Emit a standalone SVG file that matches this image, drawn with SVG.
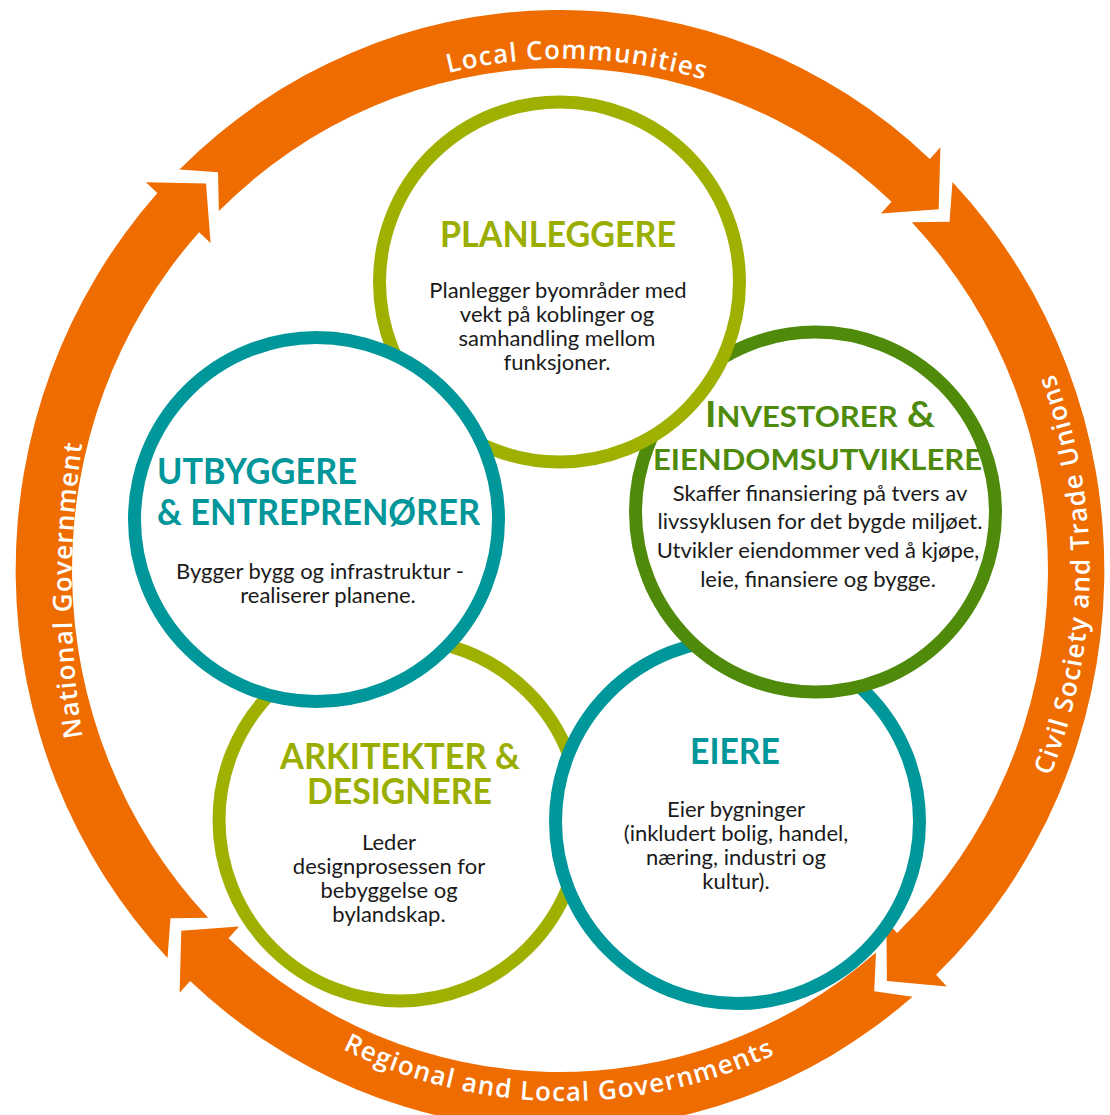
<svg xmlns="http://www.w3.org/2000/svg" width="1110" height="1115" viewBox="0 0 1110 1115">
<defs>
<style>
.ring{fill:#EE6C00;}
.lbl{font-family:"Open Sans","Noto Sans",sans-serif;font-size:26px;font-weight:600;fill:#ffffff;letter-spacing:1.2px;}
.node{fill:#ffffff;stroke-width:13;}
.yg{stroke:#9FB000;} .tl{stroke:#00979A;} .dg{stroke:#4F8A0B;}
.title{font-family:Lato,"Open Sans",sans-serif;font-weight:700;font-size:36px;}
.tyg{fill:#9AAE00;} .ttl{fill:#00969A;} .tdg{fill:#4E8A0C;}
.body{font-family:Lato,"Open Sans",sans-serif;font-size:22px;fill:#1a1a1a;text-anchor:middle;}
</style>
<path id="pTop" d="M 193.6 231.4 A 494.6 511 0 0 1 951.1 251.9"/>
<path id="pRight" d="M 898.3 989.0 A 525.6 543 0 0 0 905.4 157.1"/>
<path id="pBottom" d="M 166.9 907.2 A 514 531 0 0 0 954.3 915.6"/>
<path id="pLeft" d="M 186.2 1040 A 490 700 0 0 1 186.2 140"/>
</defs>
<rect width="1110" height="1115" fill="#ffffff"/>
<g id="connectors">
<g transform="translate(560 570) scale(0.972 1)">
<path class="ring" d="M -391.54 -400.38 A 560 560 0 0 1 380.49 -410.89 L 391.36 -422.63 L 389.61 -360.79 L 330.21 -356.59 L 341.08 -368.33 A 502 502 0 0 0 -350.98 -358.91 L -351.85 -397.70 Z"/>
<path class="ring" d="M 403.78 -388.02 A 560 560 0 0 1 386.90 404.87 L 397.95 416.44 L 336.33 410.92 L 335.77 351.37 L 346.83 362.94 A 502 502 0 0 0 361.96 -347.84 L 400.75 -348.37 Z"/>
<path class="ring" d="M 362.66 426.72 A 560 560 0 0 1 -380.49 410.89 L -391.36 422.63 L -389.61 360.79 L -330.21 356.59 L -341.08 368.33 A 502 502 0 0 0 325.10 382.52 L 323.25 421.27 Z"/>
<path class="ring" d="M -403.78 388.02 A 560 560 0 0 1 -414.20 -376.89 L -426.03 -387.66 L -364.18 -386.45 L -359.47 -327.09 L -371.30 -337.86 A 502 502 0 0 0 -361.96 347.84 L -400.75 348.37 Z"/>
</g>
<text class="lbl"><textPath href="#pTop" startOffset="50%" text-anchor="middle">Local Communities</textPath></text>
<text class="lbl"><textPath href="#pRight" startOffset="50%" text-anchor="middle">Civil Society and Trade Unions</textPath></text>
<text class="lbl"><textPath href="#pBottom" startOffset="50%" text-anchor="middle">Regional and Local Governments</textPath></text>
<text class="lbl"><textPath href="#pLeft" startOffset="50%" text-anchor="middle">National Government</textPath></text>
</g>
<g id="arkitekter">
<circle class="node yg" cx="400" cy="820" r="181"/>
<text class="title tyg" x="280" y="769" textLength="240" lengthAdjust="spacingAndGlyphs">ARKITEKTER &amp;</text>
<text class="title tyg" x="307" y="804" textLength="185" lengthAdjust="spacingAndGlyphs">DESIGNERE</text>
<text class="body" x="389" y="850">Leder</text>
<text class="body" x="389" y="874">designprosessen for</text>
<text class="body" x="389" y="898">bebyggelse og</text>
<text class="body" x="389" y="922">bylandskap.</text>
</g>
<g id="eiere">
<circle class="node tl" cx="737.5" cy="821.5" r="182"/>
<text class="title ttl" x="690" y="764" textLength="90" lengthAdjust="spacingAndGlyphs">EIERE</text>
<text class="body" x="736" y="817">Eier bygninger</text>
<text class="body" x="736" y="841">(inkludert bolig, handel,</text>
<text class="body" x="736" y="865">næring, industri og</text>
<text class="body" x="736" y="889">kultur).</text>
</g>
<g id="investorer">
<circle class="node dg" cx="815.5" cy="512" r="180"/>
<text class="title tdg" x="705" y="427" textLength="230" lengthAdjust="spacingAndGlyphs">I<tspan font-size="29">NVESTORER</tspan> &amp;</text>
<text class="title tdg" x="653" y="470" textLength="329" lengthAdjust="spacingAndGlyphs" style="font-size:29px">EIENDOMSUTVIKLERE</text>
<text class="body" x="820" y="501">Skaffer finansiering på tvers av</text>
<text class="body" x="820" y="529">livssyklusen for det bygde miljøet.</text>
<text class="body" x="818" y="558">Utvikler eiendommer ved å kjøpe,</text>
<text class="body" x="818" y="587">leie, finansiere og bygge.</text>
</g>
<g id="planleggere">
<circle class="node yg" cx="559.5" cy="282" r="180"/>
<text class="title tyg" x="440" y="247" textLength="236" lengthAdjust="spacingAndGlyphs">PLANLEGGERE</text>
<text class="body" x="558" y="298">Planlegger byområder med</text>
<text class="body" x="557" y="322">vekt på koblinger og</text>
<text class="body" x="557" y="346">samhandling mellom</text>
<text class="body" x="557" y="370">funksjoner.</text>
</g>
<g id="utbyggere">
<circle class="node tl" cx="316.5" cy="519.5" r="182"/>
<text class="title ttl" x="157" y="484" textLength="200" lengthAdjust="spacingAndGlyphs">UTBYGGERE</text>
<text class="title ttl" x="157" y="525" textLength="323" lengthAdjust="spacingAndGlyphs">&amp; ENTREPRENØRER</text>
<text class="body" x="320" y="579">Bygger bygg og infrastruktur -</text>
<text class="body" x="328" y="603">realiserer planene.</text>
</g>
</svg>
